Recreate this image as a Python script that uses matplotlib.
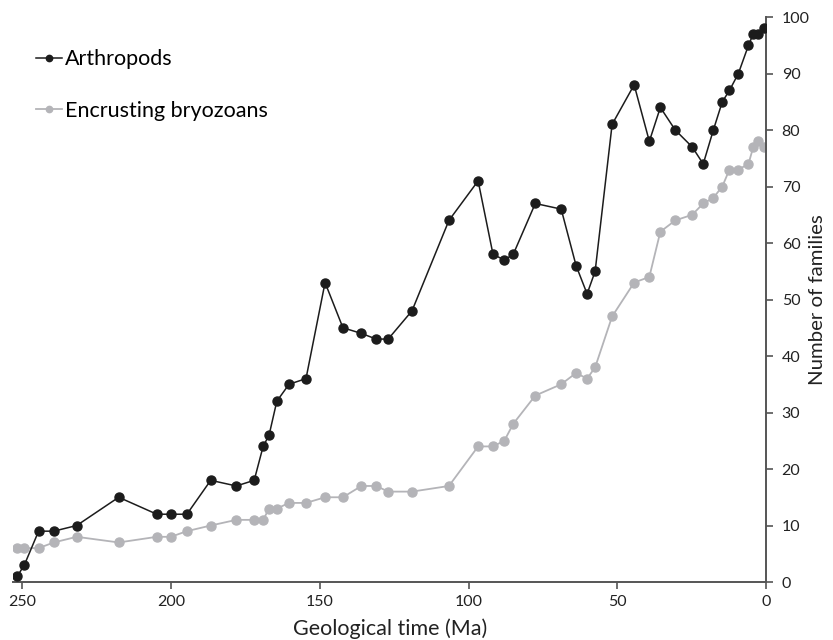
import matplotlib.pyplot as plt

# ----------------------------
# DATA
# ----------------------------
AGES = [251.6, 249.2, 244.4, 239.3, 231.6, 217.5, 204.7, 200.0, 194.6, 186.6,
        178.0, 172.0, 169.0, 167.0, 164.4, 160.3, 154.6, 148.2, 142.2, 136.0,
        131.0, 127.0, 119.0, 106.6, 96.8, 91.8, 88.0, 85.0, 77.6, 68.9,
        63.9, 60.2, 57.5, 51.8, 44.4, 39.3, 35.6, 30.6, 24.9, 21.2,
        17.8, 14.8, 12.4, 9.4, 6.0, 4.4, 2.7, 0.7]

ARTHROPODS = [1, 3, 9, 9, 10, 15, 12, 12, 12, 18,
              17, 18, 24, 26, 32, 35, 36, 53, 45, 44,
              43, 43, 48, 64, 71, 58, 57, 58, 67, 66,
              56, 51, 55, 81, 88, 78, 84, 80, 77, 74,
              80, 85, 87, 90, 95, 97, 97, 98]

BRYOZOANS = [6, 6, 6, 7, 8, 7, 8, 8, 9, 10,
             11, 11, 11, 13, 13, 14, 14, 15, 15, 17,
             17, 16, 16, 17, 24, 24, 25, 28, 33, 35,
             37, 36, 38, 47, 53, 54, 62, 64, 65, 67,
             68, 70, 73, 73, 74, 77, 78, 77]

X_TICKS = [250, 200, 150, 100, 50, 0]
Y_TICKS = [0, 10, 20, 30, 40, 50, 60, 70, 80, 90, 100]

BLACK = "#1c1c1c"
GREY = "#b4b4b8"
AXIS = "#555555"

plt.rcParams["font.family"] = ["Lato", "DejaVu Sans"]

# =========================
# PLOT
# =========================
fig = plt.figure(figsize=(8.33, 6.4), dpi=100)
ax = fig.add_axes([0.0156, 0.0906, 0.9044, 0.8828])

ax.plot(AGES, BRYOZOANS, "-o", color=GREY, lw=1.3, ms=6.5, zorder=2,
        label="Encrusting bryozoans")
ax.plot(AGES, ARTHROPODS, "-o", color=BLACK, lw=1.1, ms=6.5, zorder=3,
        label="Arthropods")

ax.set_xlim(253, 0)
ax.set_ylim(0, 100)
ax.set_xticks(X_TICKS)
ax.set_yticks(Y_TICKS)

# y axis on the right, no left/top spine
ax.yaxis.tick_right()
ax.yaxis.set_label_position("right")
for side in ("left", "top"):
    ax.spines[side].set_visible(False)
for side in ("right", "bottom"):
    ax.spines[side].set_color(AXIS)
    ax.spines[side].set_linewidth(1.4)

ax.tick_params(axis="both", colors=AXIS, labelcolor="#222222",
               labelsize=11.5, length=5, width=1.2, direction="out")
ax.tick_params(axis="y", pad=6)
ax.tick_params(axis="x", pad=4)

ax.set_xlabel("Geological time (Ma)", fontsize=15.5, color="#222222")
ax.set_ylabel("Number of families", fontsize=14.7, color="#222222")
ax.xaxis.set_label_coords(0.5, -0.064)
ax.yaxis.set_label_coords(1.057, 0.5)

handles, labels = ax.get_legend_handles_labels()
leg = ax.legend(handles[::-1], labels[::-1], loc="upper left",
                bbox_to_anchor=(0.005, 0.977), frameon=False, fontsize=15.5,
                handlelength=1.2, handletextpad=0.15, labelspacing=1.45,
                markerscale=0.7)

fig.savefig("out.png", dpi=100)
